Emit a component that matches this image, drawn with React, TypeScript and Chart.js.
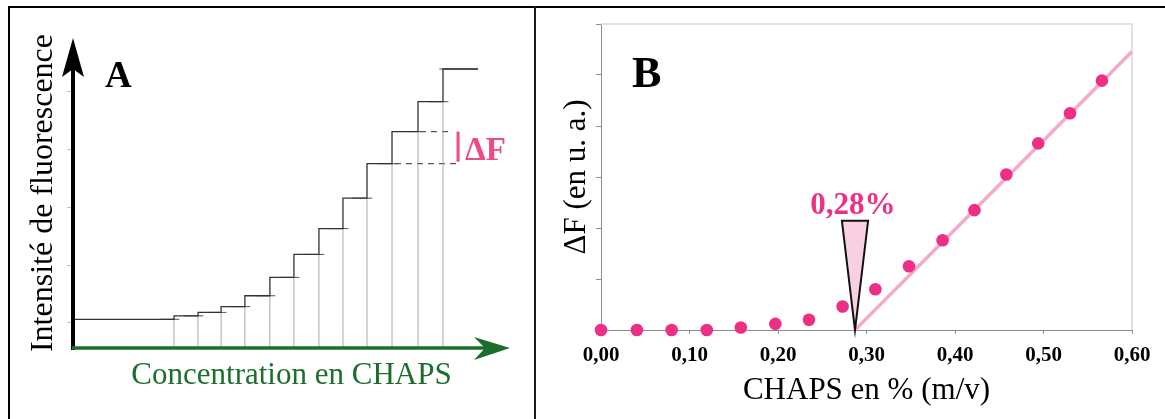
import React, { useEffect, useRef } from 'react';
import { Chart, registerables } from 'chart.js';

Chart.register(...registerables);

const SERIF = '"Liberation Serif", "Times New Roman", Times, serif';
const GREEN = '#1b6e2b';
const PINK = '#ee2f86';
const PINK_TEXT = '#ec4a8b';

// ---------- Panel A : fluorescence trace (arbitrary units) ----------
const aStartX = 0.08;
const aEndX = 16.68;
const aStepX = [4.16, 5.15, 6.1, 7.08, 8.11, 9.1, 10.13, 11.12, 12.11, 13.14, 14.21, 15.24];
const aLevels = [0.5, 0.56, 0.62, 0.72, 0.91, 1.23, 1.63, 2.08, 2.61, 3.21, 3.77, 4.29, 4.86];
const aAxisTicks = [0.46, 1.45, 2.46, 3.46, 4.47];
const aDashLower = [13.26, 15.94];
const aDashUpper = [14.29, 15.61];
const aDeltaBarX = 15.86;
const aDeltaTextX = 16.15;
const aMarkOvershoot = 0.22;

// ---------- Panel B : ΔF vs CHAPS % ----------
const bX = [0, 0.0406, 0.0798, 0.1195, 0.158, 0.197, 0.235, 0.273, 0.31, 0.348, 0.386, 0.422, 0.458, 0.494, 0.53, 0.566];
const bY = [0, 0, 0, 0, 0.05, 0.12, 0.2, 0.46, 0.8, 1.25, 1.76, 2.35, 3.05, 3.66, 4.25, 4.89];
const bFitX = [0.287, 0.6];
const bFitY = [0, 5.46];
const bCmc = 0.287;
const bCmcLabel = '0,28%';
const bTriTop = 2.14;
const bTriHalf = 0.0148;
const bXTicks = [0, 0.1, 0.2, 0.3, 0.4, 0.5, 0.6];

const panelAPlugin = {
  id: 'panelA',
  afterDraw(chart: any) {
    const { ctx, chartArea: ca, scales } = chart;
    const x = scales.x;
    const y = scales.y;
    ctx.save();
    ctx.strokeStyle = '#c4c4c4';
    ctx.lineWidth = 1;
    aAxisTicks.forEach((v) => {
      const py = Math.round(y.getPixelForValue(v)) + 0.5;
      ctx.beginPath();
      ctx.moveTo(ca.left - 6, py);
      ctx.lineTo(ca.left, py);
      ctx.stroke();
    });
    // black y arrow
    ctx.strokeStyle = '#000';
    ctx.lineWidth = 4;
    ctx.beginPath();
    ctx.moveTo(ca.left, ca.bottom + 2);
    ctx.lineTo(ca.left, ca.top + 30);
    ctx.stroke();
    ctx.fillStyle = '#000';
    ctx.beginPath();
    ctx.moveTo(ca.left, ca.top);
    ctx.lineTo(ca.left + 11, ca.top + 39);
    ctx.lineTo(ca.left, ca.top + 31);
    ctx.lineTo(ca.left - 11, ca.top + 39);
    ctx.closePath();
    ctx.fill();
    // green x arrow
    ctx.strokeStyle = GREEN;
    ctx.lineWidth = 3.5;
    ctx.beginPath();
    ctx.moveTo(ca.left - 1, ca.bottom);
    ctx.lineTo(ca.right - 22, ca.bottom);
    ctx.stroke();
    ctx.fillStyle = GREEN;
    ctx.beginPath();
    ctx.moveTo(ca.right, ca.bottom);
    ctx.lineTo(ca.right - 36, ca.bottom - 11);
    ctx.lineTo(ca.right - 25, ca.bottom);
    ctx.lineTo(ca.right - 36, ca.bottom + 12);
    ctx.closePath();
    ctx.fill();
    // pink ΔF bar and label
    const y9 = y.getPixelForValue(aLevels[9]);
    const y10 = y.getPixelForValue(aLevels[10]);
    ctx.fillStyle = PINK_TEXT;
    ctx.fillRect(x.getPixelForValue(aDeltaBarX) - 1.5, y10, 3, y9 - y10 - 2);
    ctx.font = `bold 33px ${SERIF}`;
    ctx.textAlign = 'left';
    ctx.textBaseline = 'alphabetic';
    ctx.fillText('ΔF', x.getPixelForValue(aDeltaTextX), y9 - 4);
    // panel letter
    ctx.fillStyle = '#000';
    ctx.font = `bold 37px ${SERIF}`;
    ctx.fillText('A', ca.left + 32, ca.top + 49);
    ctx.restore();
  },
};

const panelBPlugin = {
  id: 'panelB',
  beforeDatasetsDraw(chart: any) {
    const { ctx, chartArea: ca } = chart;
    ctx.save();
    ctx.strokeStyle = '#d8d8d8';
    ctx.lineWidth = 1.5;
    ctx.beginPath();
    ctx.moveTo(ca.left, ca.top);
    ctx.lineTo(ca.right, ca.top);
    ctx.lineTo(ca.right, ca.bottom);
    ctx.stroke();
    ctx.restore();
  },
  afterDatasetsDraw(chart: any) {
    const { ctx, chartArea: ca, scales } = chart;
    const x = scales.x;
    const y = scales.y;
    ctx.save();
    const ax = x.getPixelForValue(bCmc);
    const ay = y.getPixelForValue(0);
    const ty = y.getPixelForValue(bTriTop);
    const lx = x.getPixelForValue(bCmc - bTriHalf);
    const rx = x.getPixelForValue(bCmc + bTriHalf);
    ctx.beginPath();
    ctx.moveTo(lx, ty);
    ctx.lineTo(rx, ty);
    ctx.lineTo(ax, ay);
    ctx.closePath();
    ctx.fillStyle = '#f9cfe2';
    ctx.fill();
    ctx.strokeStyle = '#111';
    ctx.lineWidth = 2;
    ctx.lineJoin = 'miter';
    ctx.stroke();
    ctx.fillStyle = PINK;
    ctx.font = `bold 31px ${SERIF}`;
    ctx.textAlign = 'center';
    ctx.textBaseline = 'alphabetic';
    ctx.fillText(bCmcLabel, ax - 2, ty - 7);
    ctx.fillStyle = '#000';
    ctx.textAlign = 'left';
    ctx.font = `bold 44px ${SERIF}`;
    ctx.fillText('B', ca.left + 31, ca.top + 63);
    ctx.restore();
  },
};

function buildA(canvas: HTMLCanvasElement) {
  const trace = [
    { x: aStartX, y: aLevels[0] },
    ...aStepX.map((sx, i) => ({ x: sx, y: aLevels[i + 1] })),
    { x: aEndX, y: aLevels[aLevels.length - 1] },
  ];
  const verticals: any[] = [];
  aStepX.forEach((sx, i) => {
    verticals.push({ x: sx, y: 0 }, { x: sx, y: aLevels[i] }, { x: sx, y: null });
  });
  // short level marks crossing each step (mean-level lines)
  const marks: any[] = [];
  aStepX.forEach((sx, i) => {
    marks.push({ x: sx - 0.6, y: aLevels[i] }, { x: sx + aMarkOvershoot, y: aLevels[i] }, { x: sx, y: null });
  });
  marks.push({ x: aStepX[aStepX.length - 1] - 0.15, y: aLevels[12] }, { x: aEndX, y: aLevels[12] });
  const dashLower = aDashLower.map((v) => ({ x: v, y: aLevels[9] }));
  const dashUpper = aDashUpper.map((v) => ({ x: v, y: aLevels[10] }));
  return new Chart(canvas, {
    type: 'line',
    data: {
      datasets: [
        { data: trace, stepped: true, borderColor: '#333', borderWidth: 1.3, pointRadius: 0 } as any,
        { data: marks, borderColor: '#555', borderWidth: 1, pointRadius: 0, spanGaps: false } as any,
        { data: verticals, borderColor: '#a8a8a8', borderWidth: 1, pointRadius: 0, spanGaps: false } as any,
        { data: dashLower, borderColor: '#555', borderWidth: 1.3, borderDash: [6, 5], pointRadius: 0 } as any,
        { data: dashUpper, borderColor: '#555', borderWidth: 1.3, borderDash: [6, 5], pointRadius: 0 } as any,
      ],
    },
    options: {
      responsive: false,
      animation: false,
      events: [],
      layout: { padding: { left: 20, top: 38, right: 26, bottom: 21 } },
      plugins: { legend: { display: false }, tooltip: { enabled: false } },
      scales: {
        x: {
          type: 'linear',
          min: 0,
          max: 18,
          ticks: { display: false },
          grid: { display: false, drawTicks: false },
          border: { display: false },
          title: {
            display: true,
            text: 'Concentration en CHAPS',
            color: GREEN,
            font: { family: SERIF, size: 31 },
            padding: { top: 4, bottom: 4 },
          },
          afterFit: (s: any) => { s.height = 50; },
        },
        y: {
          type: 'linear',
          min: 0,
          max: 5.4,
          ticks: { display: false },
          grid: { display: false, drawTicks: false },
          border: { display: false },
          title: {
            display: true,
            text: 'Intensité de fluorescence',
            color: '#000',
            font: { family: SERIF, size: 32 },
            padding: { top: 4, bottom: 4 },
          },
          afterFit: (s: any) => { s.width = 53; },
        },
      },
    } as any,
    plugins: [panelAPlugin],
  });
}

function buildB(canvas: HTMLCanvasElement) {
  const pts = bX.map((v, i) => ({ x: v, y: bY[i] }));
  const fit = bFitX.map((v, i) => ({ x: v, y: bFitY[i] }));
  return new Chart(canvas, {
    type: 'scatter',
    data: {
      datasets: [
        { data: pts, pointRadius: 6.3, pointBackgroundColor: PINK, pointBorderColor: PINK, pointBorderWidth: 0, clip: false } as any,
        { data: fit, showLine: true, borderColor: '#f7aac6', borderWidth: 3.5, pointRadius: 0, clip: false } as any,
      ],
    },
    options: {
      responsive: false,
      animation: false,
      events: [],
      layout: { padding: { left: 17, top: 24, right: 33, bottom: 6 } },
      plugins: { legend: { display: false }, tooltip: { enabled: false } },
      scales: {
        x: {
          type: 'linear',
          min: 0,
          max: 0.6,
          afterBuildTicks: (s: any) => { s.ticks = bXTicks.map((v) => ({ value: v })); },
          ticks: {
            padding: 9,
            color: '#000',
            font: { family: SERIF, size: 21, weight: 'bold' },
            maxRotation: 0,
            callback: (v: any) => Number(v).toFixed(2).replace('.', ','),
          },
          grid: { drawOnChartArea: false, drawTicks: true, tickLength: 4, color: '#8c8c8c' },
          border: { display: true, color: '#8c8c8c', width: 1 },
          title: {
            display: true,
            text: 'CHAPS en % (m/v)',
            color: '#000',
            font: { family: SERIF, size: 31 },
            padding: { top: 4, bottom: 4 },
          },
          afterFit: (s: any) => { s.height = 83; },
        },
        y: {
          type: 'linear',
          min: 0,
          max: 6,
          ticks: { stepSize: 1, callback: () => '', padding: 0 },
          grid: { drawOnChartArea: false, drawTicks: true, tickLength: 5, color: '#8c8c8c' },
          border: { display: true, color: '#8c8c8c', width: 1 },
          title: {
            display: true,
            text: 'ΔF (en u. a.)',
            color: '#000',
            font: { family: SERIF, size: 31 },
            padding: { top: 4, bottom: 4 },
          },
          afterFit: (s: any) => { s.width = 47; },
        },
      },
    } as any,
    plugins: [panelBPlugin],
  });
}

export default function App() {
  const refA = useRef<HTMLCanvasElement>(null);
  const refB = useRef<HTMLCanvasElement>(null);
  useEffect(() => {
    const a = buildA(refA.current as HTMLCanvasElement);
    const b = buildB(refB.current as HTMLCanvasElement);
    return () => {
      a.destroy();
      b.destroy();
    };
  }, []);
  return (
    <div style={{ position: 'fixed', left: 0, top: 0, width: 1165, height: 419, background: '#fff', overflow: 'hidden' }}>
      <canvas ref={refA} width={536} height={419} style={{ position: 'absolute', left: 0, top: 0 }} />
      <canvas ref={refB} width={628} height={419} style={{ position: 'absolute', left: 537, top: 0 }} />
      <div style={{ position: 'absolute', left: 8, top: 6, width: 1157, height: 2, background: '#000' }} />
      <div style={{ position: 'absolute', left: 8, top: 6, width: 2, height: 413, background: '#000' }} />
      <div style={{ position: 'absolute', left: 534, top: 6, width: 2, height: 413, background: '#1a1a1a' }} />
    </div>
  );
}
